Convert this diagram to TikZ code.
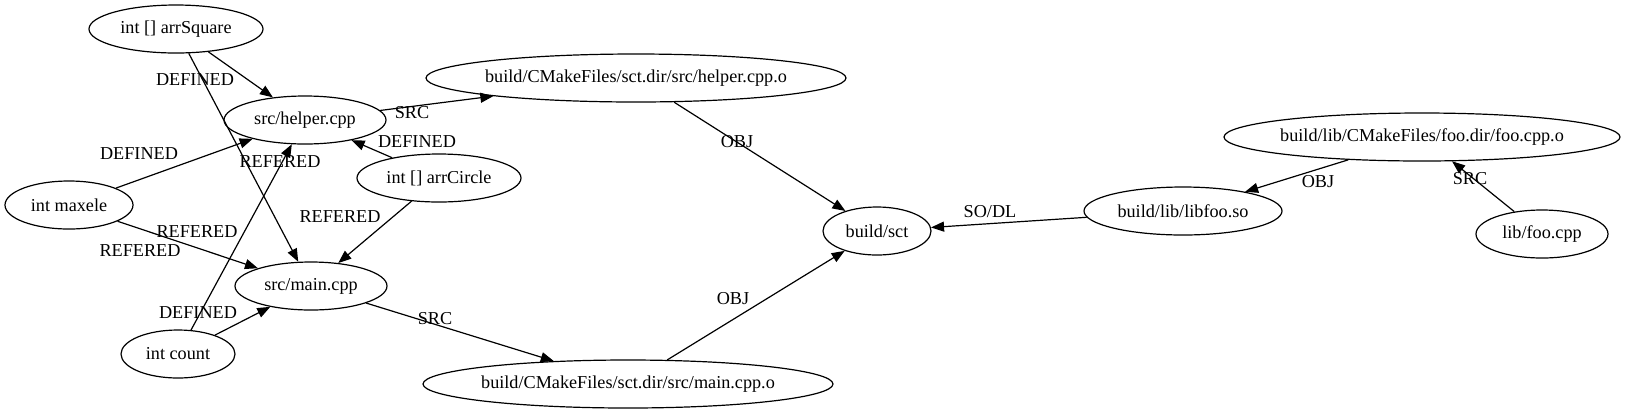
\documentclass[tikz,border=0pt]{standalone}
\usepackage{fontspec}
\setmainfont{Liberation Serif}
\usepackage{tikz}
\usetikzlibrary{shapes.geometric, arrows.meta}

\tikzset{
  file/.style={ellipse, draw, line width=0.6pt, inner sep=0pt, minimum height=24pt,
    font=\fontsize{9.1}{11}\selectfont,
    execute at begin node={\hbox to 0pt\bgroup\hss},
    execute at end node={\hss\egroup}},
  dep/.style={line width=0.6pt, -{Triangle[length=6.5pt,width=5pt]}},
  lbl/.style={inner sep=0pt, font=\fontsize{9.1}{11}\selectfont}
}

\begin{document}
\begin{tikzpicture}[x=0.5pt, y=-0.5pt]
\useasboundingbox (0,0) rectangle (1627,414);

%---------------- Nodes ----------------%
\node[file, minimum width=87pt]  (sq)     at (176,29)  {int [] arrSquare};
\node[file, minimum width=81pt]  (helper) at (305,120) {src/helper.cpp};
\node[file, minimum width=210pt] (helpo)  at (636,78)  {build/CMakeFiles/sct.dir/src/helper.cpp.o};
\node[file, minimum width=82pt]  (circ)   at (439,178) {int [] arrCircle};
\node[file, minimum width=64pt]  (maxele) at (69,205)  {int maxele};
\node[file, minimum width=76pt]  (mainc)  at (311,286) {src/main.cpp};
\node[file, minimum width=57pt]  (count)  at (178,354) {int count};
\node[file, minimum width=205pt] (maino)  at (628,384) {build/CMakeFiles/sct.dir/src/main.cpp.o};
\node[file, minimum width=54pt]  (sct)    at (877,231) {build/sct};
\node[file, minimum width=99pt]  (libso)  at (1183,211) {build/lib/libfoo.so};
\node[file, minimum width=198pt] (fooo)   at (1422,137) {build/lib/CMakeFiles/foo.dir/foo.cpp.o};
\node[file, minimum width=66pt]  (foocpp) at (1542,234) {lib/foo.cpp};

%---------------- Symbols ----------------%
\draw[dep] (sq) -- (helper);
\node[lbl] (l1) at (195,80) {DEFINED};
\draw[dep] (sq) -- (mainc);
\node[lbl] (l2) at (280,162) {REFERED};

\draw[dep] (maxele) -- (helper);
\node[lbl] (l3) at (139,154) {DEFINED};
\draw[dep] (maxele) -- (mainc);
\node[lbl] (l4) at (197,232) {REFERED};

\draw[dep] (count) -- (mainc);
\node[lbl] (l5) at (140,251) {REFERED};
\draw[dep] (count) -- (helper);
\node[lbl] (l6) at (198,313) {DEFINED};

\draw[dep] (circ) -- (helper);
\node[lbl] (l7) at (417,142) {DEFINED};
\draw[dep] (circ) -- (mainc);
\node[lbl] (l8) at (340,217) {REFERED};

%---------------- Build ----------------%
\draw[dep] (helper) -- (helpo);
\node[lbl] (l9) at (412,113) {SRC};
\draw[dep] (mainc) -- (maino);
\node[lbl] (l10) at (435,319) {SRC};

\draw[dep] (helpo) -- (sct);
\node[lbl] (l11) at (737,142) {OBJ};
\draw[dep] (maino) -- (sct);
\node[lbl] (l12) at (733,299) {OBJ};

\draw[dep] (libso) -- (sct);
\node[lbl] (l13) at (990,212) {SO/DL};
\draw[dep] (fooo) -- (libso);
\node[lbl] (l14) at (1318,182) {OBJ};
\draw[dep] (foocpp) -- (fooo);
\node[lbl] (l15) at (1470,179) {SRC};

\end{tikzpicture}
\end{document}
